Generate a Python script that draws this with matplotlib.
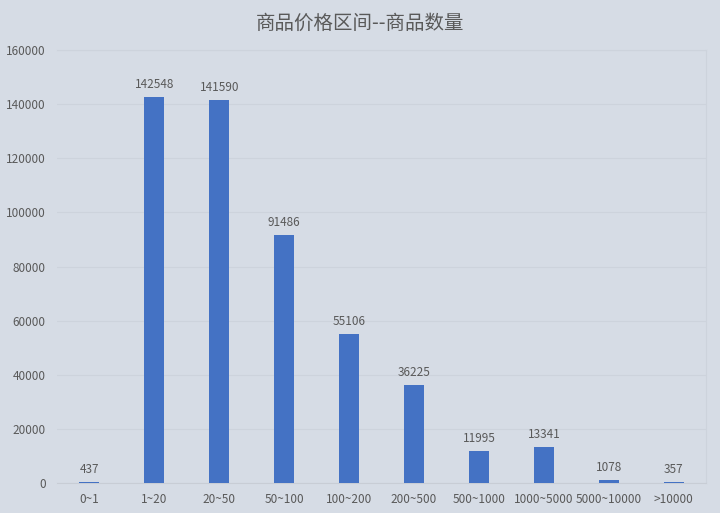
import matplotlib.pyplot as plt

plt.rcParams['font.family'] = ['Noto Sans CJK SC', 'DejaVu Sans']

categories = ['0~1', '1~20', '20~50', '50~100', '100~200', '200~500',
              '500~1000', '1000~5000', '5000~10000', '>10000']
counts = [437, 142548, 141590, 91486, 55106, 36225, 11995, 13341, 1078, 357]

bg = '#D6DCE5'
txt = '#595959'

fig = plt.figure(figsize=(7.2, 5.13), dpi=100, facecolor=bg)
ax = fig.add_axes([0.079, 0.0585, 0.902, 0.844], facecolor=bg)

x = range(len(categories))
ax.bar(x, counts, width=0.31, color='#4472C4', zorder=3)
for i, v in enumerate(counts):
    ax.text(i, v + 2200, str(v), ha='center', va='bottom', fontsize=8.5, color=txt)

ax.set_xlim(-0.5, len(categories) - 0.5)
ax.set_ylim(0, 160000)
ax.set_yticks(range(0, 160001, 20000))
ax.set_xticks(list(x))
ax.set_xticklabels(categories)
ax.tick_params(axis='both', length=0, labelsize=8.5, colors=txt)
ax.tick_params(axis='x', pad=7)
ax.tick_params(axis='y', pad=8)
ax.grid(axis='y', color='#CDD3DC', linewidth=0.8, zorder=0)
for s in ['top', 'right']:
    ax.spines[s].set_color('#CDD3DC')
ax.spines['left'].set_visible(False)
ax.spines['bottom'].set_color('#C8CDD5')

fig.text(0.5, 0.955, '商品价格区间--商品数量', ha='center', va='center',
         fontsize=14, color=txt)

fig.savefig('out.png', dpi=100, facecolor=bg)
